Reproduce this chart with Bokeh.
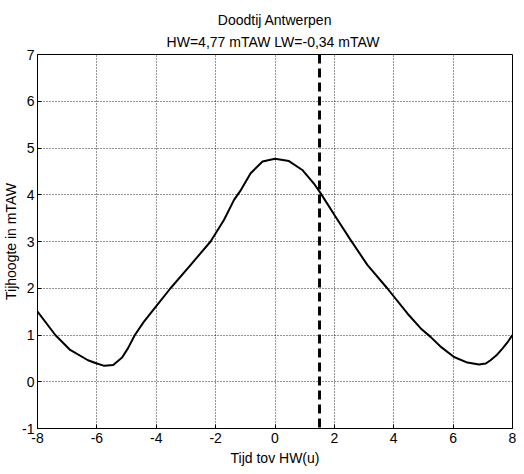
from bokeh.plotting import figure
from bokeh.models import Span, Title, FixedTicker, Range1d
from bokeh.embed import file_html
from bokeh.resources import INLINE

# Data
tijd = [-8, -7.4, -6.9, -6.3, -6.0, -5.75, -5.45, -5.15, -4.95, -4.72, -4.42, -4.02,
        -3.52, -2.84, -2.17, -1.72, -1.38, -1.15, -0.82, -0.42, 0, 0.47, 0.92, 1.31,
        1.54, 2.04, 2.55, 3.11, 3.78, 4.46, 4.91, 5.24, 5.6, 6.03, 6.48, 6.87, 7.1,
        7.26, 7.45, 7.66, 7.85, 8.0]
hoogte = [1.50, 1.0, 0.68, 0.46, 0.39, 0.34, 0.36, 0.52, 0.72, 1.0, 1.28, 1.60,
          2.0, 2.50, 3.0, 3.46, 3.89, 4.10, 4.46, 4.71, 4.77, 4.72, 4.53, 4.24,
          4.03, 3.53, 3.03, 2.50, 2.0, 1.46, 1.14, 0.96, 0.74, 0.53, 0.41, 0.37, 0.39,
          0.46, 0.56, 0.71, 0.86, 1.0]
marker_tijd = 1.5
x_ticks = [-8, -6, -4, -2, 0, 2, 4, 6, 8]
y_ticks = [-1, 0, 1, 2, 3, 4, 5, 6, 7]
title1 = "Doodtij Antwerpen"
title2 = "HW=4,77 mTAW  LW=-0,34 mTAW"
x_label = "Tijd tov HW(u)"
y_label = "Tijhoogte in mTAW"

FONT = "Liberation Sans"

p = figure(width=524, height=474, output_backend="svg", toolbar_location=None,
           x_range=Range1d(-8, 8), y_range=Range1d(-1, 7), title=None)
p.min_border_left = 37
p.min_border_right = 12
p.min_border_top = 54
p.min_border_bottom = 46
p.background_fill_color = "white"
p.border_fill_color = "white"
p.outline_line_color = "black"
p.outline_line_width = 1

# titles (second line first so it sits next to the plot)
t2 = Title(text=title2, align="center", text_font=FONT, text_font_size="14px",
           text_font_style="normal", text_color="black", standoff=9)
t1 = Title(text=title1, align="center", text_font=FONT, text_font_size="14px",
           text_font_style="normal", text_color="black", standoff=0,
           vertical_align="bottom")
p.add_layout(t2, "above")
p.add_layout(t1, "above")

for ax, ticks in ((p.xaxis[0], x_ticks), (p.yaxis[0], y_ticks)):
    ax.ticker = FixedTicker(ticks=ticks)
    ax.major_label_overrides = {t: str(t) for t in ticks}
    ax.major_tick_in = 4
    ax.major_tick_out = 0
    ax.minor_tick_in = 0
    ax.minor_tick_out = 0
    ax.axis_line_color = "black"
    ax.major_tick_line_color = "black"
    ax.major_label_text_font = FONT
    ax.major_label_text_font_size = "14px"
    ax.major_label_text_color = "black"
    ax.axis_label_text_font = FONT
    ax.axis_label_text_font_size = "14px"
    ax.axis_label_text_font_style = "normal"
    ax.axis_label_text_color = "black"

p.xaxis.axis_label = x_label
p.yaxis.axis_label = y_label
p.xaxis.major_label_standoff = 4
p.xaxis.axis_label_standoff = 4
p.yaxis.major_label_standoff = 3
p.yaxis.axis_label_standoff = 0
p.yaxis.major_label_orientation = "horizontal"

for g in (p.xgrid[0], p.ygrid[0]):
    g.grid_line_color = "black"
    g.grid_line_dash = "1 2"
    g.grid_line_width = 1
    g.grid_line_alpha = 0.85

p.line(tijd, hoogte, line_color="black", line_width=2, line_join="round")
p.add_layout(Span(location=marker_tijd, dimension="height", line_color="black",
                  line_width=3, line_dash="9 5"))

open("out.html", "w").write(file_html(p, INLINE))
